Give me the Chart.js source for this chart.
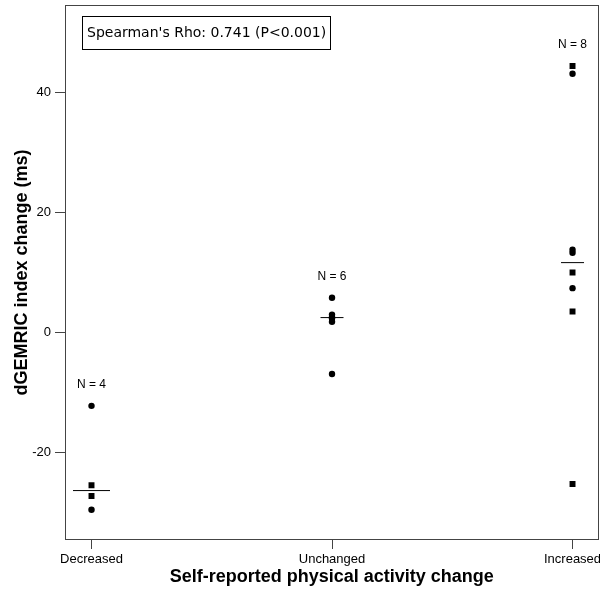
<!DOCTYPE html>
<html>
<head>
<meta charset="utf-8">
<script src="https://cdn.jsdelivr.net/npm/chart.js@4/dist/chart.umd.min.js"></script>
<style>
  html, body { margin: 0; padding: 0; background: #fff; }
  #wrap { width: 600px; height: 594px; }
</style>
</head>
<body>
<div id="wrap"><canvas id="chart" width="600" height="594"></canvas></div>
<script>
// groups along the x axis
const categories = ["Decreased", "Unchanged", "Increased"];

// dGEMRIC change (ms), split by marker type, one list per group
const roundValues = [
  [-12.2, -29.5],
  [5.8, 3.0, 2.6, 2.4, 1.8, -6.9],
  [43.1, 13.8, 13.3, 7.4]
];
const squareValues = [
  [-25.4, -27.2],
  [],
  [44.4, 10.0, 3.5, -25.2]
];

const yTicks = [-20, 0, 20, 40];
const statsText = "Spearman's Rho: 0.741 (P<0.001)";

const AXIS = "#444";
const BLACK = "#000";

function toPoints(groups) {
  const pts = [];
  groups.forEach((vals, i) => vals.forEach((v) => pts.push({ x: i, y: v })));
  return pts;
}

function median(vals) {
  const s = vals.slice().sort((a, b) => a - b);
  const m = Math.floor(s.length / 2);
  return s.length % 2 ? s[m] : (s[m - 1] + s[m]) / 2;
}

const allValues = categories.map((c, i) => roundValues[i].concat(squareValues[i]));
const medianPoints = allValues.map((vals, i) => ({ x: i, y: median(vals) }));

// frame, stats box and "N = x" labels
const extras = {
  id: "extras",
  afterDraw(chart) {
    const { ctx, chartArea: a, scales } = chart;
    ctx.save();
    ctx.strokeStyle = AXIS;
    ctx.lineWidth = 1;
    ctx.strokeRect(Math.round(a.left) + 0.5, Math.round(a.top) + 0.5,
      Math.round(a.right - a.left) - 1, Math.round(a.bottom - a.top) - 1);

    // stats box
    ctx.font = "14px 'DejaVu Sans'";
    ctx.fillStyle = BLACK;
    ctx.textBaseline = "middle";
    ctx.textAlign = "left";
    const bx = a.left + 17, by = a.top + 11;
    const tw = ctx.measureText(statsText).width;
    ctx.strokeStyle = BLACK;
    ctx.strokeRect(bx + 0.5, by + 0.5, Math.round(tw) + 9, 33);
    ctx.fillText(statsText, bx + 5, by + 17.5);

    // group counts
    ctx.font = "12px 'Liberation Sans'";
    ctx.textAlign = "center";
    allValues.forEach((vals, i) => {
      const x = scales.x.getPixelForValue(i);
      let y = scales.y.getPixelForValue(Math.max(...vals)) - 21;
      y = Math.max(y, a.top + 30);
      ctx.fillText("N = " + vals.length, x, y);
    });
    ctx.restore();
  }
};

new Chart(document.getElementById("chart"), {
  type: "scatter",
  data: {
    datasets: [
      {
        label: "round",
        data: toPoints(roundValues),
        pointStyle: "circle",
        pointRadius: 3.2,
        backgroundColor: BLACK,
        borderColor: BLACK,
        borderWidth: 0
      },
      {
        label: "square",
        data: toPoints(squareValues),
        pointStyle: "rect",
        pointRadius: 4.2,
        backgroundColor: BLACK,
        borderColor: BLACK,
        borderWidth: 0
      },
      {
        label: "median",
        data: medianPoints,
        pointStyle: "line",
        pointRadius: [18.5, 11.5, 11.5],
        borderColor: BLACK,
        borderWidth: 1
      }
    ]
  },
  options: {
    responsive: false,
    animation: false,
    layout: { autoPadding: false, padding: { top: 5, right: 1.5, left: 0, bottom: 0 } },
    plugins: { legend: { display: false }, tooltip: { enabled: false } },
    scales: {
      x: {
        type: "linear",
        min: -0.1102,
        max: 2.108,
        afterBuildTicks: (s) => { s.ticks = categories.map((c, i) => ({ value: i })); },
        afterFit: (s) => { s.height = 54; s.paddingLeft = 0; s.paddingRight = 0; },
        border: { display: false },
        grid: { drawOnChartArea: false, drawTicks: true, tickLength: 9, color: AXIS },
        ticks: {
          padding: 3,
          maxRotation: 0,
          color: BLACK,
          font: { family: "'Liberation Sans'", size: 13 },
          callback: (v) => categories[v]
        },
        title: {
          display: true,
          text: "Self-reported physical activity change",
          color: BLACK,
          font: { family: "'Liberation Sans'", size: 18, weight: "bold" },
          padding: { top: 0, bottom: 6 }
        }
      },
      y: {
        min: -34.53,
        max: 54.54,
        afterBuildTicks: (s) => { s.ticks = yTicks.map((v) => ({ value: v })); },
        afterFit: (s) => { s.width = 65; s.paddingTop = 0; s.paddingBottom = 0; },
        border: { display: false },
        grid: { drawOnChartArea: false, drawTicks: true, tickLength: 10, color: AXIS },
        ticks: {
          padding: 4,
          color: BLACK,
          font: { family: "'Liberation Sans'", size: 13 }
        },
        title: {
          display: true,
          text: "dGEMRIC index change (ms)",
          color: BLACK,
          font: { family: "'Liberation Sans'", size: 18, weight: "bold" },
          padding: { top: 11, bottom: 0 }
        }
      }
    }
  },
  plugins: [extras]
});
</script>
</body>
</html>
